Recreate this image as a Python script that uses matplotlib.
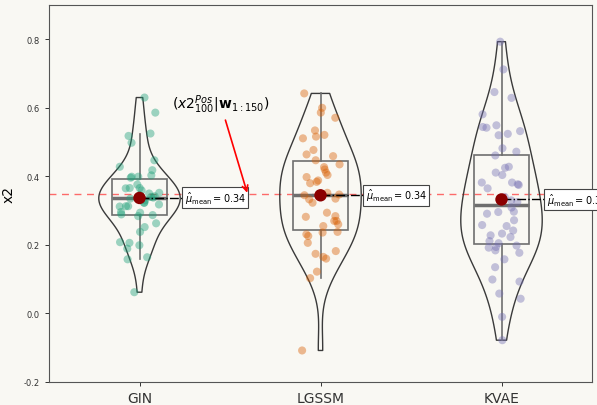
import numpy as np
import matplotlib
matplotlib.use("Agg")
import matplotlib.pyplot as plt

categories = ["GIN", "LGSSM", "KVAE"]

gin = [0.630, 0.586, 0.525, 0.518, 0.498, 0.447, 0.428, 0.418, 0.403, 0.399,
       0.399, 0.396, 0.366, 0.376, 0.366, 0.359, 0.352, 0.340, 0.323, 0.318,
       0.313, 0.313, 0.323, 0.289, 0.296, 0.294, 0.284, 0.263, 0.252, 0.238,
       0.199, 0.206, 0.208, 0.189, 0.164, 0.158, 0.062, 0.312, 0.287, 0.365,
       0.335, 0.342, 0.345, 0.338, 0.330, 0.350]
lgssm = [0.642, 0.600, 0.586, 0.571, 0.534, 0.521, 0.511, 0.516, 0.477, 0.464,
         0.459, 0.447, 0.435, 0.427, 0.420, 0.411, 0.404, 0.398, 0.388, 0.380,
         0.384, 0.345, 0.347, 0.333, 0.352, 0.323, 0.284, 0.294, 0.282, 0.270,
         0.260, 0.270, 0.255, 0.231, 0.226, 0.238, 0.236, 0.206, 0.182, 0.160,
         0.165, 0.174, 0.122, 0.103, -0.108, 0.335]
kvae = [0.793, 0.712, 0.646, 0.629, 0.581, 0.549, 0.544, 0.542, 0.532, 0.524,
        0.520, 0.482, 0.472, 0.461, 0.425, 0.428, 0.411, 0.404, 0.382, 0.377,
        0.365, 0.375, 0.382, 0.309, 0.297, 0.291, 0.296, 0.272, 0.258, 0.255,
        0.242, 0.233, 0.223, 0.228, 0.211, 0.194, 0.192, 0.184, 0.177, 0.158,
        0.135, 0.099, 0.093, 0.058, 0.043, -0.010, -0.078, 0.325, 0.330, 0.340,
        0.205, 0.198]
series = [gin, lgssm, kvae]

reference_value = 0.35
yticks = [-0.2, 0.0, 0.2, 0.4, 0.6, 0.8]
annotation_text = r"$(x2^{Pos}_{100}|\mathbf{w}_{1:150})$"

colors = ["#1b9e77", "#d95f02", "#7570b3"]
bg = "#f9f8f3"

fig = plt.figure(figsize=(5.97, 4.06), dpi=100, facecolor=bg)
ax = fig.add_axes([49/597, 1-383/406, (592-49)/597, (383-6)/406])
ax.set_facecolor(bg)

positions = np.arange(len(categories))

# violins
vp = ax.violinplot(series, positions=positions, widths=0.45,
                   showextrema=False, showmeans=False, showmedians=False)
for body in vp["bodies"]:
    body.set_facecolor("none")
    body.set_edgecolor("#3a3a3a")
    body.set_linewidth(1.0)
    body.set_alpha(1)
    body.set_zorder(2)

# boxplots
ax.boxplot(series, positions=positions, widths=0.3, showfliers=False,
           showcaps=False, patch_artist=True, manage_ticks=False,
           boxprops=dict(facecolor="none", edgecolor="#6e6e6e", linewidth=1.2),
           whiskerprops=dict(color="#6e6e6e", linewidth=1.2),
           medianprops=dict(color="#6e6e6e", linewidth=2.5),
           zorder=3)

# jittered points
rng = np.random.default_rng(7)
for i, vals in enumerate(series):
    jit = rng.uniform(-0.11, 0.11, len(vals))
    ax.scatter(positions[i] + jit, vals, s=34, color=colors[i], alpha=0.42,
               edgecolors="none", zorder=4)

# reference line
ax.axhline(reference_value, color="#ff3b3b", alpha=0.75, lw=1.0,
           ls=(0, (5, 4)), zorder=1)

# means
for i, vals in enumerate(series):
    m = float(np.mean(vals))
    ax.scatter([positions[i]], [m], s=80, color="#8b0000", zorder=6,
               edgecolors="none")
    ax.plot([positions[i], positions[i] + 0.245], [m, m], color="black",
            lw=1.0, ls="-.", zorder=5)
    ax.text(positions[i] + 0.25, m, r"$\hat{\mu}_{\mathrm{mean}}=%.2f$" % m,
            fontsize=7, ha="left", va="center", zorder=7, clip_on=False,
            bbox=dict(boxstyle="square,pad=0.25", facecolor="white",
                      edgecolor="#444444", linewidth=0.8))

ax.annotate(annotation_text, xy=(0.595, 0.352), xytext=(0.447, 0.613),
            fontsize=10, ha="center", va="center",
            arrowprops=dict(arrowstyle="->", color="red", lw=1.2,
                            shrinkA=2, shrinkB=0), zorder=8)

ax.set_xlim(-0.5, 2.5)
ax.set_ylim(-0.2, 0.9)
ax.set_xticks(positions)
ax.set_xticklabels(categories, fontsize=10)
ax.set_yticks(yticks)
ax.set_yticklabels(["%.1f" % v if v != 0 else "0.0" for v in yticks], fontsize=6)
ax.set_ylabel("x2", fontsize=10, labelpad=6)
for s in ax.spines.values():
    s.set_color("#555555")
    s.set_linewidth(0.8)
ax.tick_params(axis="both", colors="#333333", length=3, width=0.7)

fig.savefig("out.png", dpi=100, facecolor=bg)
